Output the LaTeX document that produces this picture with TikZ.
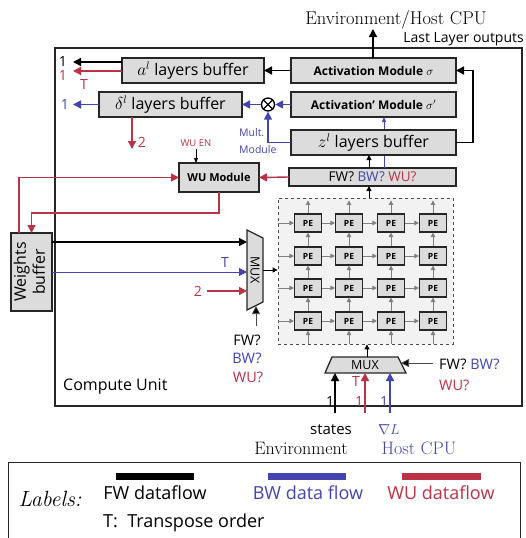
\documentclass[tikz,border=0pt]{standalone}
\usepackage{fontspec}
\usepackage{graphicx}
\setsansfont{Open Sans}
\usetikzlibrary{arrows.meta,calc}
\definecolor{bwc}{RGB}{68,68,175}
\definecolor{wuc}{RGB}{185,50,70}
\definecolor{boxg}{RGB}{220,220,220}
\definecolor{peg}{RGB}{128,128,128}
\newcommand{\myfs}[1]{\sffamily\fontsize{#1}{#1}\selectfont}
\tikzset{
 bx/.style={draw=black!85, fill=boxg, line width=1.3pt, inner sep=0pt, outer sep=0pt},
 ar/.style={line width=1.4pt, -{Triangle[length=8pt,width=8pt]}},
 fwl/.style={ar, black},
 bwl/.style={ar, bwc},
 wul/.style={ar, wuc},
 fws/.style={black, line width=1pt, -{Triangle[length=5pt,width=5pt]}},
 ctl/.style={black!70, line width=0.7pt, -{Triangle[length=8pt,width=8pt,fill=black]}},
 pe/.style={draw=black!85, fill=boxg, line width=1.1pt, minimum width=27pt, minimum height=18pt, inner sep=0pt, font=\myfs{8.5}\bfseries},
 ga/.style={peg, line width=0.9pt, -{Triangle[length=4.5pt,width=4.5pt]}},
 lab/.style={inner sep=0pt},
}
\begin{document}
\begin{tikzpicture}[x=1pt,y=-1pt,font=\sffamily]
\useasboundingbox (0,0) rectangle (525,538);
% compute unit
\node[draw=black!85,line width=1.3pt,minimum width=467pt,minimum height=358pt,inner sep=0pt] (cu) at (288.5,227) {};
\node[lab,anchor=west,font=\myfs{16}] (cul) at (63,387) {Compute Unit};
% top texts
\node[lab,font=\myfs{18.5}\rmfamily] (env) at (396,20) {Environment/Host CPU};
\node[lab,anchor=east,font=\myfs{14}] (llo) at (524,39) {Last Layer outputs};
% boxes
\node[bx,minimum width=142pt,minimum height=25pt,font=\myfs{16}] (al) at (193,70.5) {$a^l$ layers buffer};
\node[bx,minimum width=143pt,minimum height=25pt,font=\myfs{16}] (dl) at (170.5,104.5) {$\delta^l$ layers buffer};
\node[bx,minimum width=165pt,minimum height=25pt,font=\myfs{12}\bfseries] (act) at (373.5,70.5) {Activation Module $\sigma$};
\node[bx,minimum width=165pt,minimum height=25pt,font=\myfs{12}\bfseries] (actp) at (373.5,104.5) {Activation’ Module $\sigma'$};
\node[bx,minimum width=167pt,minimum height=18pt,font=\myfs{13.5}] (fwq) at (372.5,177) {FW? \textcolor{bwc}{BW?} \textcolor{wuc}{WU?}};
\draw[bwc,line width=0.7pt,-{Triangle[length=5pt,width=4pt]}] (fwq.north -| 384,0) -- (actp.south -| 384,0);
\node[bx,minimum width=165pt,minimum height=25pt,font=\myfs{16}] (zl) at (373.5,142.5) {$z^l$ layers buffer};
\node[bx,minimum width=80pt,minimum height=29pt,font=\myfs{11}\bfseries] (wu) at (219,177.5) {WU Module};
\node[bx,minimum width=41pt,minimum height=78pt] (wb) at (31.5,272) {\rotatebox{90}{\sffamily\fontsize{16}{19}\selectfont\begin{tabular}{@{}c@{}}Weights\\buffer\end{tabular}}};
\node[circle,draw=black,line width=1.3pt,minimum size=13pt,inner sep=0pt,
  path picture={\draw[line width=1.3pt] (path picture bounding box.south west) -- (path picture bounding box.north east)
  (path picture bounding box.north west) -- (path picture bounding box.south east);}] (mult) at (268,104.5) {};
\node[lab,text=bwc,font=\myfs{10.5},anchor=west] (multl) at (239,133) {Mult.};
\node[lab,text=bwc,font=\myfs{10.5},anchor=west] (multl2) at (239,150) {Module};
% top connectors
\coordinate (envb) at (373,29);
\draw[fwl] (act.north -| envb) -- (envb);
\draw[fwl] (act.west) -- (al.east);
\draw[fwl] (zl.east) -- ++(17,0) |- (act.east);
\coordinate (ao1) at (73,62);
\coordinate (ao2) at (73,71);
\draw[fwl] (al.west |- ao1) -- (ao1);
\draw[wul] (al.west |- ao2) -- (ao2);
\node[lab,font=\myfs{14}] (l1a) at (63,62) {1};
\node[lab,font=\myfs{14},text=wuc] (l1b) at (63,76) {1};
\node[lab,font=\myfs{14},text=wuc] (lTa) at (84,85) {T};
\coordinate (do1) at (73,104.5);
\draw[bwl] (dl.west) -- (do1);
\node[lab,font=\myfs{14},text=bwc] (l1c) at (65,105) {1};
\coordinate (do2) at (132,149);
\draw[wul] (dl.south -| do2) -- (do2);
\node[lab,font=\myfs{14},text=wuc] (l2a) at (142,142) {2};
\draw[bwl] (actp.west) -- (mult.east);
\draw[bwl] (mult.west) -- (dl.east);
\draw[bwl] (zl.west) -| (mult.south);
% WU
\node[lab,text=wuc,font=\myfs{9.5}] (wuen) at (196,143) {WU EN};
\draw[black,line width=0.7pt,-{Triangle[length=5pt,width=4pt]}] (wuen.south) ++(0,2) -- (wuen.south |- wu.north);
\draw[wul] (fwq.west) -- (wu.east);
\coordinate (wbx) at (19,0);
\draw[wul] (wb.north -| wbx) -- (wu.west -| wbx) -- (wu.west);
\draw[wul] (wu.south) -- ++(0,21) -| (wb.north);
% PE array
\node[draw=black!70,dashed,line width=0.8pt,fill=gray!10,minimum width=175pt,minimum height=146pt,inner sep=0pt] (arr) at (365.5,271) {};
\foreach \i/\x in {1/308,2/349,3/391,4/433}{
  \foreach \j/\y in {1/223,2/256,3/288,4/321}{
    \node[pe] (pe\i\j) at (\x,\y) {PE};
  }
}
\foreach \j in {1,2,3,4}{
  \draw[ga] (arr.west |- pe1\j) -- (pe1\j.west);
  \draw[ga] (pe1\j.east) -- (pe2\j.west);
  \draw[ga] (pe2\j.east) -- (pe3\j.west);
  \draw[ga] (pe3\j.east) -- (pe4\j.west);
}
\foreach \i in {1,2,3,4}{
  \draw[ga] (arr.south -| pe\i4) -- (pe\i4.south);
  \draw[ga] (pe\i4.north) -- (pe\i3.south);
  \draw[ga] (pe\i3.north) -- (pe\i2.south);
  \draw[ga] (pe\i2.north) -- (pe\i1.south);
  \draw[ga] (pe\i1.north) -- ++(0,-13);
}
\coordinate (ax) at (369,0);
\draw[fws] (arr.north -| ax) -- (fwq.south -| ax);
\draw[fws] (fwq.north -| ax) -- (zl.south -| ax);
% left MUX
\draw[bx] (247,230) -- (263,238) -- (263,302) -- (247,310) -- cycle;
\node[lab,rotate=-90,font=\myfs{12.5}] (mux1) at (255,270) {MUX};
\coordinate (m1i1) at (247,242);
\coordinate (m1i2) at (247,272);
\coordinate (m1i3) at (247,291);
\coordinate (m1s) at (256,306);
\coordinate (m1c) at (256,326);
\coordinate (m1o) at (263,270);
\coordinate (r2) at (207,291);
\draw[fwl] (wb.east |- m1i1) -- (m1i1);
\draw[bwl,line width=1pt] (wb.east |- m1i2) -- (m1i2);
\draw[wul] (r2) -- (m1i3);
\node[lab,font=\myfs{14},text=bwc] (lTb) at (225,262) {T};
\node[lab,font=\myfs{14},text=wuc] (l2b) at (198,291) {2};
\draw[ctl] (m1c) -- (m1s);
\draw[fws] (m1o) -- (arr.west |- m1o);
\node[lab,font=\myfs{14.5}] (q1) at (247,340) {FW?};
\node[lab,font=\myfs{14.5},text=bwc] (q2) at (247,358) {BW?};
\node[lab,font=\myfs{14.5},text=wuc] (q3) at (248,377) {WU?};
% bottom MUX
\draw[bx] (332,357) -- (398,357) -- (406,373) -- (325,373) -- cycle;
\node[lab,font=\myfs{12.5}] (mux2) at (365,365) {MUX};
\coordinate (m2t) at (367,357);
\coordinate (m2r) at (401,363);
\coordinate (c2) at (433,363);
\draw[fws] (m2t) -- (arr.south -| m2t);
\draw[ctl] (c2) -- (m2r);
\node[lab,anchor=west,font=\myfs{14.5}] (q4) at (439,364) {FW? \textcolor{bwc}{BW?}};
\node[lab,anchor=west,font=\myfs{14.5},text=wuc] (q5) at (439,385) {WU?};
\coordinate (b1) at (335,413);
\coordinate (b2) at (365,413);
\coordinate (b3) at (390,413);
\coordinate (t1) at (335,373);
\coordinate (t2) at (365,373);
\coordinate (t3) at (390,373);
\draw[fwl] (b1) -- (t1);
\draw[wul] (b2) -- (t2);
\draw[bwl] (b3) -- (t3);
\node[lab,font=\myfs{14}] (lb1) at (330,401) {1};
\node[lab,font=\myfs{14},text=wuc] (lb2) at (359,401) {1};
\node[lab,font=\myfs{14},text=wuc] (lbT) at (356,381) {T};
\node[lab,font=\myfs{14},text=bwc] (lb3) at (384,401) {1};
\node[lab,font=\myfs{15}] (st) at (331,430) {states};
\node[lab,font=\myfs{18}\rmfamily] (envB) at (301,448) {Environment};
\node[lab,font=\myfs{14}\rmfamily,text=bwc] (gl) at (389,430) {$\nabla L$};
\node[lab,font=\myfs{18}\rmfamily,text=bwc] (host) at (419,448) {Host CPU};
% legend
\node[draw=black!85,line width=1.3pt,minimum width=512pt,minimum height=95pt,inner sep=0pt,anchor=north west] (leg) at (8,462) {};
\draw[line width=7pt,black] (116,476) -- (194,476);
\draw[line width=7pt,bwc] (268,476) -- (346,476);
\draw[line width=7pt,wuc] (402,476) -- (481,476);
\node[lab,font=\myfs{22}\rmfamily\itshape] (labs) at (50,499) {Labels:};
\node[lab,font=\myfs{18}] (lg1) at (155,493) {FW dataflow};
\node[lab,font=\myfs{18},text=bwc] (lg2) at (308,493) {BW data flow};
\node[lab,font=\myfs{18},text=wuc] (lg3) at (441,493) {WU dataflow};
\node[lab,anchor=west,font=\myfs{18}] (lg4) at (103,523) {T:\ \ Transpose order};
\end{tikzpicture}
\end{document}
